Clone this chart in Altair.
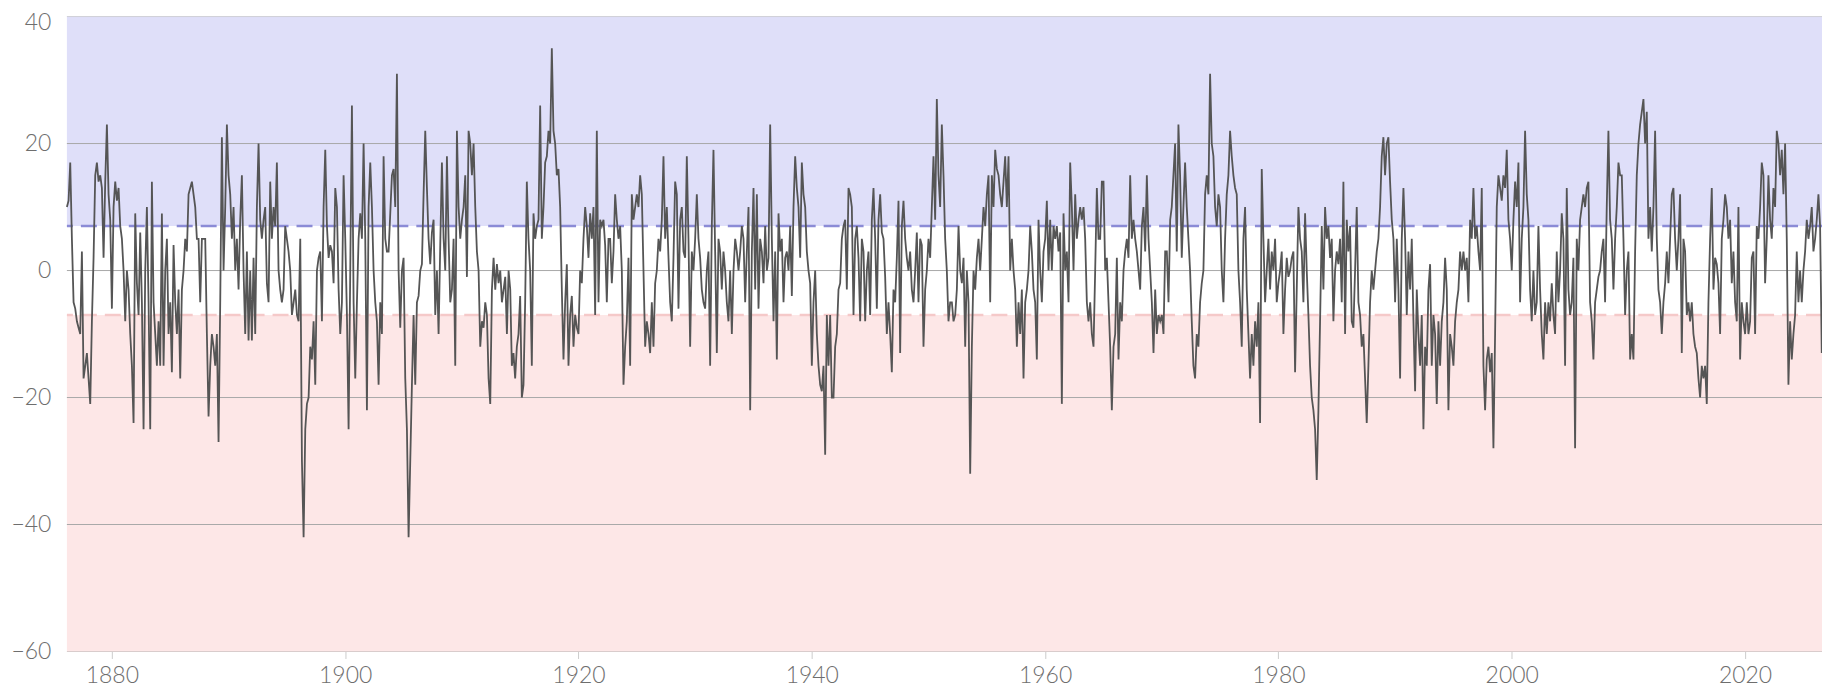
import altair as alt
import pandas as pd

# Southern Oscillation Index,
# sampled every 1/7 year, in eight consecutive stretches.
STEP = 1 / 7
seg_start_years = [1876.15, 1895.44, 1914.29, 1933.15, 1952.01, 1970.86, 1989.72, 2008.58]

soi_1876 = [10, 11, 17, 5, -5, -6, -8, -9, -10, 3, -17, -15, -13, -17, -21, -8, 2, 15, 17, 14,
            15, 13, 2, 14, 23, 12, 8, -6, 10, 14, 11, 13, 7, 5, 0, -8, 0, -3, -10, -15,
            -24, 9, -2, -7, 6, -5, -25, 0, 10, -5, -25, 14, -5, -10, -15, -8, -15, 9, -15, 0,
            5, -10, -5, -16, 4, -5, -10, -3, -17, -3, 0, 5, 3, 12, 13, 14, 12, 10, 5, 5,
            -5, 5, 5, 5, -10, -23, -15, -10, -12, -15, -10, -27, -5, 21, 0, 10, 23, 15, 12, 5,
            10, 0, 5, -3, 8, 15, 0, -10, 3, -11, 0, -11, 2, -10, 10, 20, 8, 5, 8, 10,
            -2, -5, 14, 5, 10, 7, 17, 0, -3, -5, -3, 7, 5, 3, 0]

soi_1895 = [-7, -5, -3, -7, -8, 5, -30, -42, -25, -21, -20, -12, -14, -8, -18, 0, 2, 3, -8, 10,
            19, 7, 2, 4, 3, -2, 13, 10, -3, -10, -5, 15, 5, -7, -25, 0, 26, -5, -17, -5,
            5, 9, 5, 20, 5, -22, 10, 17, 10, 0, -5, -8, -18, -5, -10, 18, 5, 3, 3, 9,
            15, 16, 10, 31, 0, -9, 0, 2, -17, -25, -42, -30, -18, -7, -18, -5, -4, 0, 1, 12,
            22, 13, 5, 1, 6, 8, -7, 0, -10, 4, 17, 5, 0, 18, 5, -5, -3, 5, -15, 22,
            10, 5, 8, 10, 15, -1, 22, 20, 15, 20, 10, 3, 0, -12, -8, -9, -5, -7, -17, -21,
            -3, 2, -3, 1, -2, 0, -5, -3, -1, -10, 0, -3]

soi_1914 = [-15, -13, -17, -12, -10, -4, -20, -18, -5, 14, 5, 0, -15, 9, 5, 7, 8, 26, 5, 10,
            17, 18, 22, 20, 35, 22, 20, 15, 16, 10, -3, -14, -5, 1, -15, -7, -4, -12, -7, -9,
            -10, 0, -2, 5, 10, 7, 2, 9, 5, 10, -7, 22, -5, 8, 7, 8, 4, -5, 5, 5,
            -2, 3, 12, 8, 5, 7, 0, -18, -12, -8, 2, -15, 12, 8, 10, 12, 10, 15, 12, 0,
            -12, -8, -10, -13, -5, -12, -2, 0, 5, 3, 8, 18, 5, 10, 2, -5, -8, 2, 14, 12,
            -6, 8, 10, 3, 2, 18, 5, -12, 3, 0, 5, 12, 5, 2, -3, -5, -6, 0, 3, -15,
            7, 19, 3, -13, 5, 3, -3, 3, 0, -5, -8, 0]

soi_1933 = [-10, 0, 5, 3, 0, 3, 7, 5, -5, 3, 10, -22, 3, 13, -3, 12, -6, 5, 3, -2,
            7, 0, 2, 23, 5, -8, 3, -14, 9, 3, 5, -5, 2, 3, 0, 7, -4, 10, 18, 13,
            10, 2, 17, 12, 10, 3, 0, -2, -15, -5, 0, -10, -15, -18, -19, -15, -29, -7, -15, -7,
            -20, -20, -12, -10, -3, -2, 5, 7, 8, -3, 13, 12, 10, -7, 5, 7, 2, -8, 5, 3,
            -8, 0, 3, -7, 8, 13, 5, -6, 8, 12, 6, 5, -1, -10, -5, -10, -16, -3, -5, 2,
            11, -13, 7, 11, 5, 2, 0, 3, -3, -5, 0, 6, -5, 5, 4, -12, -3, 0, 5, 2,
            10, 18, 8, 27, 15, 10, 23, 15, 5, 0, -8, -5]

soi_1952 = [-5, -8, -7, -3, 7, 0, -2, 2, -12, 0, -5, -32, -12, 0, -3, 2, 5, 0, 5, 10,
            7, 12, 15, -5, 15, 10, 19, 16, 15, 12, 10, 14, 18, 10, 18, 0, 5, 0, -3, -12,
            -5, -10, -3, -17, -5, -3, 0, 7, 3, -3, -5, -14, 8, 0, -5, 3, 5, 11, 0, 8,
            0, 7, 5, 7, 3, 6, -21, 9, 0, 3, -5, 17, 10, 0, 12, 5, 8, 10, 8, 10,
            5, -5, -8, -5, -10, -12, 0, 13, 5, 5, 14, 14, 0, 2, -5, -12, -22, -12, -10, 2,
            -14, -5, -8, 0, 3, 5, 2, 15, 5, 8, 5, 3, 0, -3, 7, 10, 3, 15, 5, 0,
            -5, -13, -3, -10, -7, -8, -7, -10, 3, 3, -5, 8]

soi_1971 = [10, 15, 20, 3, 23, 15, 2, 10, 17, 10, 5, 0, -8, -15, -17, -10, -12, -5, -2, 0,
            12, 15, 12, 31, 20, 18, 10, 7, 12, 10, 0, -5, 5, 12, 15, 22, 18, 15, 13, 12,
            0, -5, -12, 5, 10, -3, -10, -17, -10, -15, -8, -12, -5, -24, 16, 5, -5, 0, 5, -3,
            3, 0, 5, -5, -2, 0, 3, -10, -3, 2, -1, 0, 2, 3, -16, -3, 10, 5, 3, -5,
            9, 0, -7, -15, -20, -22, -25, -33, -22, -8, 7, -3, 10, 5, 7, 2, 5, -8, 0, 3,
            1, 5, -5, 14, -10, 8, 3, 7, -8, -9, 0, 10, -5, -7, -12, -10, -17, -24, -15, -5,
            0, -3, 0, 3, 5, 10, 18, 21, 15, 20, 21, 14]

soi_1990 = [8, 5, -5, 5, -3, -17, 5, 13, 5, -7, 3, -3, 5, -8, -19, -3, -10, -15, -7, -25,
            -12, -15, -3, 1, -15, -7, -10, -21, -8, -15, -8, -5, 2, -3, -22, -10, -12, -15, -8, -5,
            -3, 3, 0, 3, 0, 2, -5, 8, 5, 13, 5, 7, 3, 0, 13, -15, -22, -14, -12, -16,
            -13, -28, -10, 10, 15, 13, 11, 15, 13, 19, 8, 5, 0, 8, 14, 10, 17, -5, 5, 10,
            22, 12, 8, -3, -8, 0, -7, -5, 7, -3, -10, -14, -5, -10, -5, -8, -2, -7, -10, 3,
            -5, 0, 9, 5, -15, 13, -3, -7, -5, 2, -28, 5, 0, 8, 10, 12, 10, 13, 14, -5,
            -8, -14, -5, -3, -1, 0, 3, 5, -5, 10, 22, 8]

soi_2009 = [5, -3, 5, 10, 17, 15, 15, 5, -7, 0, 3, -14, -10, -14, 3, 15, 20, 23, 25, 27,
            20, 25, 5, 10, 3, 10, 22, 5, -3, -5, -10, -5, -2, 3, -2, 5, 12, 13, 5, 0,
            5, 12, -13, 5, 3, -7, -5, -8, -5, -10, -12, -13, -17, -20, -15, -17, -15, -21, -5, 5,
            13, -3, 2, 1, -2, -10, 5, 8, 12, 10, 5, 8, -2, 3, -5, -8, 10, -14, -5, -8,
            -10, -5, -10, -8, 2, 3, -10, 7, 5, 10, 17, 15, -2, 5, 15, 8, 5, 13, 10, 22,
            20, 15, 19, 12, 20, 5, -18, -8, -14, -10, -7, 3, -5, 0, -5, 0, 3, 8, 5, 7,
            10, 3, 5, 8, 12, 7, -13]

segments = [soi_1876, soi_1895, soi_1914, soi_1933, soi_1952, soi_1971, soi_1990, soi_2009]

y_ticks = [-60, -40, -20, 0, 20, 40]
x_ticks = [1880, 1900, 1920, 1940, 1960, 1980, 2000, 2020]
grid_values = [-40, -20, 0, 20]
edge_values = [40, -60]
threshold_values = [7, -7]

rows = []
for start, vals in zip(seg_start_years, segments):
    for i, v in enumerate(vals):
        rows.append({"year": start + i * STEP, "soi": v})
df = pd.DataFrame(rows)

W, H = 1758, 636
FONT = "Lato"
LABEL_COLOR = "#6e6e6e"
xs = alt.Scale(domain=[1876.15, 2026.6], nice=False, zero=False)
ys = alt.Scale(domain=[-60, 40], nice=False, zero=False)

y_axis = alt.Axis(values=y_ticks, grid=False, domain=False, ticks=False,
                  labelPadding=16, labelFont=FONT, labelFontSize=23,
                  labelFontWeight=300, labelColor=LABEL_COLOR, title=None,
                  labelOffset={"condition": {"test": "datum.value == 40", "value": 6},
                               "value": 0})
x_axis = alt.Axis(values=x_ticks, format="d", grid=False, domain=False,
                  ticks=True, tickColor="#cccccc", tickSize=7, labelPadding=6,
                  labelFont=FONT, labelFontSize=23, labelFontWeight=300,
                  labelColor=LABEL_COLOR, title=None)

band_df = pd.DataFrame({"lo": [7, -60], "hi": [40, -7], "c": ["#dfdff9", "#fde7e7"]})
bands = alt.Chart(band_df).mark_rect().encode(
    x=alt.value(0), x2=alt.value(W),
    y=alt.Y("hi:Q", scale=ys, axis=y_axis, title=None), y2="lo:Q",
    color=alt.Color("c:N", scale=None),
)

grid_df = pd.DataFrame({"y": grid_values})
grid = alt.Chart(grid_df).mark_rule(color="#a9a9a9", strokeWidth=1).encode(
    y=alt.Y("y:Q", scale=ys, axis=y_axis, title=None))

edge_df = pd.DataFrame({"y": edge_values, "c": ["#cfcfd8", "#d9cccc"]})
edges = alt.Chart(edge_df).mark_rule(strokeWidth=1).encode(
    y=alt.Y("y:Q", scale=ys, axis=y_axis, title=None),
    color=alt.Color("c:N", scale=None))

thr_df = pd.DataFrame({"y": threshold_values, "c": ["#8b8bd6", "#f5c9c9"]})
thresholds = alt.Chart(thr_df).mark_rule(strokeWidth=2.5, strokeDash=[16, 8]).encode(
    y=alt.Y("y:Q", scale=ys, axis=y_axis, title=None),
    color=alt.Color("c:N", scale=None))

line = alt.Chart(df).mark_line(color="#555555", strokeWidth=1.8).encode(
    x=alt.X("year:Q", scale=xs, axis=x_axis, title=None),
    y=alt.Y("soi:Q", scale=ys, axis=y_axis, title=None),
)

chart = alt.layer(bands, grid, edges, thresholds, line).properties(
    width=W, height=H,
    autosize=alt.AutoSizeParams(type="none"),
    padding={"left": 59, "top": 8, "right": 0, "bottom": 40},
).configure_view(strokeWidth=0)

chart.save("out.html", embed_options={"renderer": "svg", "actions": False})
